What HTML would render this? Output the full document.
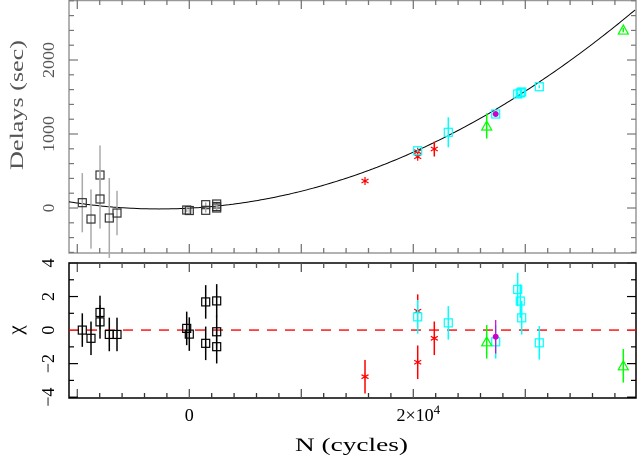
<!DOCTYPE html>
<html><head><meta charset="utf-8"><style>
html,body{margin:0;padding:0;background:#fff;}
svg{display:block;font-family:"Liberation Serif",serif;}
</style></head><body>
<svg id="chart" width="638" height="459" viewBox="0 0 638 459" xmlns="http://www.w3.org/2000/svg"></svg>
<script>
// ---- data ----
const blackN   = [-9554,-8777,-7973,-7973,-7143,-6455,-232,0,1464,1464,2446,2446,2446];
const blackD   = [72,-149,446,122,-135,-68,-27,-34,45,-31,54,0,20];
const blackErr = [400,400,400,400,540,300,30,30,30,30,30,30,30];
const blackChi = [0,-0.49,1.05,0.49,-0.26,-0.26,0.1,-0.24,1.68,-0.79,1.74,-0.1,-0.99];

const redN   = [15688,20393,20393,21875];
const redD   = [365,693,761,797];
const redErr = [20,20,20,101];
const redChi = [-2.78,-1.92,1.13,-0.49];

const cyanN   = [20393,23125,27357,29321,29554,29679,31250];
const cyanD   = [774,1023,1270,1541,1554,1568,1639];
const cyanErr = [20,203,20,20,40,20,20];
const cyanChi = [0.79,0.43,-0.7,2.42,1.73,0.73,-0.76];

const greenN   = [26554,38750];
const greenD   = [1108,2405];
const greenErr = [170,30];
const greenChi = [-0.7,-2.13];

const magN   = [27357];
const magD   = [1270];
const magChi = [-0.4];

const chiErr = 1.0;
const fitCoef = [-2, 80, 149]; // D = a + b*(N/1e4) + c*(N/1e4)^2
const yTicksTop = [0,1000,2000];
const yTicksChi = [4,2,0,-2,-4];

// ---- axes ----
const X0=69, X1=636;
const NMIN=(X0-189.3)/0.0112, NMAX=(X1-189.3)/0.0112;
const xs = n => X0 + (n-NMIN)/(NMAX-NMIN)*(X1-X0);
const T0=0, T1=253, DMIN=-608, DMAX=2811;
const ysT = d => T1 - (d-DMIN)/(DMAX-DMIN)*(T1-T0);
const B0=263, B1=398, CMIN=-4.05, CMAX=4.0;
const ysB = c => B1 - (c-CMIN)/(CMAX-CMIN)*(B1-B0);

const svg=document.getElementById('chart');
const NS='http://www.w3.org/2000/svg';
function mk(tag,attrs,parent){const e=document.createElementNS(NS,tag);for(const k in attrs)e.setAttribute(k,attrs[k]);(parent||svg).appendChild(e);return e;}

// frames
let f1=mk('rect',{x:X0,y:T0+0.5,width:X1-X0,height:T1-T0-0.5,fill:'none',stroke:'#999','stroke-width':1.5});


let f2=mk('rect',{x:X0,y:B0,width:X1-X0,height:B1-B0,fill:'none',stroke:'#000','stroke-width':1.5});



// x ticks
for(let n=-10000;n<=NMAX;n+=2000){
  const x=xs(n); const maj=(n%10000===0);
  const L=maj?9:5;
  mk('line',{x1:x,x2:x,y1:T1,y2:T1-L,stroke:'#777','stroke-width':1.3});
  mk('line',{x1:x,x2:x,y1:T0,y2:T0+L,stroke:'#777','stroke-width':1.3});
  mk('line',{x1:x,x2:x,y1:B1,y2:B1-L,stroke:maj?'#555':'#333','stroke-width':1.3});
  mk('line',{x1:x,x2:x,y1:B0,y2:B0+L,stroke:'#555','stroke-width':1.3});
}
// y ticks top
for(let d=-600;d<=2800;d+=200){
  const y=ysT(d); const L=(d%1000===0)?9:5;
  mk('line',{x1:X0,x2:X0+L,y1:y,y2:y,stroke:'#777','stroke-width':1.2});
  mk('line',{x1:X1,x2:X1-L,y1:y,y2:y,stroke:'#777','stroke-width':1.2});
}
for(let c=-4;c<=4;c+=1){
  const y=ysB(c); const L=(c%2===0)?9:5;
  mk('line',{x1:X0,x2:X0+L,y1:y,y2:y,stroke:'#000','stroke-width':1.2});
  mk('line',{x1:X1,x2:X1-L,y1:y,y2:y,stroke:'#000','stroke-width':1.2});
}
// tick labels
yTicksTop.forEach(v=>{
  const s=String(v);
  const attrs={x:0,y:0,transform:`translate(54,${ysT(v)}) rotate(-90)`,'text-anchor':'middle','font-size':17,fill:'#555'};
  if(s.length>1){attrs.textLength=36;attrs.lengthAdjust='spacingAndGlyphs';}
  const t=mk('text',attrs);
  t.textContent=s;
  
  
});
yTicksChi.forEach(v=>{
  const t=mk('text',{x:0,y:0,transform:`translate(54,${ysB(v)}) rotate(-90)`,'text-anchor':'middle','font-size':18,fill:'#000'});
  t.textContent=v<0?'\u2212'+(-v):v;
  
  
});
let xl0=mk('text',{x:xs(0),y:421,'text-anchor':'middle','font-size':18});xl0.textContent='0';


let xl1=mk('text',{x:xs(20000)+5,y:421,'text-anchor':'middle','font-size':18});
xl1.innerHTML='2\u00d710<tspan dy="-7" font-size="13">4</tspan>';


let xt=mk('text',{x:295,y:451,'font-size':19,textLength:113,lengthAdjust:'spacingAndGlyphs'});xt.textContent='N (cycles)';


let yt=mk('text',{x:-170,y:0,transform:'translate(23,0) rotate(-90)','font-size':19,fill:'#555',textLength:130,lengthAdjust:'spacingAndGlyphs'});yt.textContent='Delays (sec)';


let ct=mk('text',{x:0,y:0,transform:'translate(22,330) rotate(-90)','text-anchor':'middle','font-size':21});ct.textContent='\u03c7';



// fit curve
let pts=[];
for(let x=X0;x<=X1;x+=2){const n=NMIN+(x-X0)/(X1-X0)*(NMAX-NMIN);const u=n/1e4;const d=fitCoef[0]+fitCoef[1]*u+fitCoef[2]*u*u;pts.push(x.toFixed(1)+','+ysT(d).toFixed(1));}
let fc=mk('polyline',{points:pts.join(' '),fill:'none',stroke:'#000','stroke-width':1});


// zero line
let zl=mk('line',{x1:X0,x2:X1,y1:ysB(0),y2:ysB(0),stroke:'#f00','stroke-width':1.3,'stroke-dasharray':'10,8'});



function marker(type,x,y,col,name){
  const g=mk('g',{});
  
  
  if(type==='sq') mk('rect',{x:x-4,y:y-4,width:8,height:8,fill:'none',stroke:col,'stroke-width':1.2},g);
  else if(type==='tri') mk('polygon',{points:`${x},${y-5} ${x-5},${y+4} ${x+5},${y+4}`,fill:'none',stroke:col,'stroke-width':1.2},g);
  else if(type==='star'){[[0,4],[3.5,2],[3.5,-2]].forEach(([dx,dy])=>mk('line',{x1:x-dx,y1:y-dy,x2:x+dx,y2:y+dy,stroke:col,'stroke-width':1.2},g));}
  else if(type==='dot') mk('circle',{cx:x,cy:y,r:3,fill:col},g);
}
function series(N,D,E,C,type,col,ecolTop,name){
  N.forEach((n,i)=>{
    const x=xs(n);
    if(D && i<D.length){
      const y=ysT(D[i]);
      const e=mk('line',{x1:x,x2:x,y1:ysT(D[i]-E[i]),y2:ysT(D[i]+E[i]),stroke:ecolTop,'stroke-width':1.5});
      
      
      marker(type,x,y,col,name+'-point');
    }
    if(C && i<C.length){
      const y=ysB(C[i]);
      const e=mk('line',{x1:x,x2:x,y1:ysB(C[i]-chiErr),y2:ysB(C[i]+chiErr),stroke:col,'stroke-width':1.5});
      
      
      marker(type,x,y,col,name+'-residual');
    }
  });
}
series(blackN,blackD,blackErr,null,'sq','#333','#aaa','black');
series(blackN,null,null,blackChi,'sq','#000','#000','black');
series(redN,redD,redErr,redChi,'star','#f00','#f00','red');
series(cyanN,cyanD,cyanErr,cyanChi,'sq','#0ff','#0ff','cyan');
series(greenN,greenD,greenErr,greenChi,'tri','#0f0','#0f0','green');
magN.forEach((n,i)=>{
  marker('dot',xs(n),ysT(magD[i]),'#c0c','magenta-point');
  const e=mk('line',{x1:xs(n),x2:xs(n),y1:ysB(magChi[i]-chiErr),y2:ysB(magChi[i]+chiErr),stroke:'#c0c','stroke-width':1.2});
  
  
  marker('dot',xs(n),ysB(magChi[i]),'#c0c','magenta-residual');
});
</script>
</body></html>
